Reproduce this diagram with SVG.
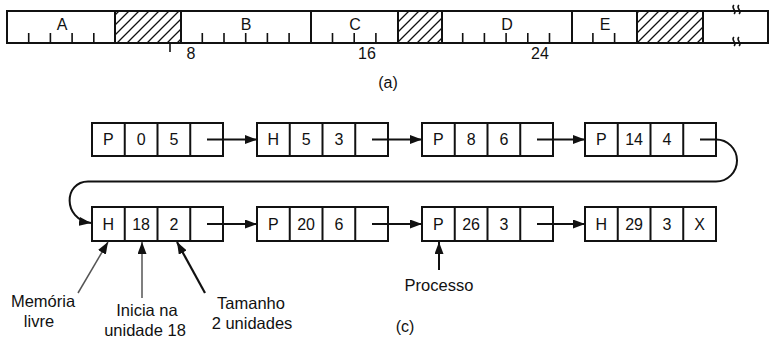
<svg xmlns="http://www.w3.org/2000/svg" width="772" height="339" viewBox="0 0 772 339">
<style>
.t{font-family:"Liberation Sans",Arial,sans-serif;font-size:16px;fill:#111;text-anchor:middle}
.lb{font-family:"Liberation Sans",Arial,sans-serif;font-size:16.5px;fill:#111}
.box{fill:#fff;stroke:#111;stroke-width:2}
.ln{stroke:#111;stroke-width:2;fill:none}
.tk{stroke:#111;stroke-width:1.6}
.cn{stroke:#111;stroke-width:2;fill:none}
</style>
<defs>
<pattern id="hatch" patternUnits="userSpaceOnUse" width="10" height="10">
<path d="M-2,2 L2,-2 M0,10 L10,0 M8,12 L12,8" stroke="#111" stroke-width="1.3"/>
</pattern>
<marker id="ah" markerUnits="userSpaceOnUse" markerWidth="13" markerHeight="9" refX="12" refY="4.5" orient="auto">
<path d="M0,0 L12,4.5 L0,9 z" fill="#111"/>
</marker>
</defs>
<rect width="772" height="339" fill="#fff"/>

<g id="memory-bar">
<rect class="box" x="7" y="11" width="761" height="32"/>
<rect x="115" y="11" width="66" height="32" fill="url(#hatch)" stroke="#111" stroke-width="2"/>
<rect x="398" y="11" width="44" height="32" fill="url(#hatch)" stroke="#111" stroke-width="2"/>
<rect x="637" y="11" width="66" height="32" fill="url(#hatch)" stroke="#111" stroke-width="2"/>
<path class="ln" d="M311 11V43M572 11V43"/>
<path class="tk" d="M28.7 33V43M50.4 33V43M72.1 33V43M93.8 33V43M202.3 33V43M224 33V43M245.7 33V43M267.4 33V43M289.1 33V43M332.5 33V43M354.2 33V43M375.9 33V43M462.7 33V43M484.4 33V43M506.1 33V43M527.8 33V43M549.5 33V43M592.9 33V43M614.6 33V43M170 43V52"/>
<path d="M734 5 c-4 3 4 6 0 9 M739 5 c-4 3 4 6 0 9 M734 37 c-4 3 4 6 0 9 M739 37 c-4 3 4 6 0 9" stroke="#111" stroke-width="1.5" fill="none"/>
<text class="t" x="62" y="30">A</text>
<text class="t" x="246" y="30">B</text>
<text class="t" x="355" y="30">C</text>
<text class="t" x="507" y="30">D</text>
<text class="t" x="605" y="30">E</text>
<text class="t" x="191" y="59">8</text>
<text class="t" x="367" y="59">16</text>
<text class="t" x="540" y="59">24</text>
<text class="t" x="388" y="88">(a)</text>
</g>

<g id="n-P0">
<rect class="box" x="92" y="123" width="131" height="33"/>
<path class="ln" d="M124.75 123V156M157.5 123V156M190.25 123V156"/>
<text class="t" x="108.4" y="145">P</text><text class="t" x="141.1" y="145">0</text><text class="t" x="173.9" y="145">5</text>
</g>
<g id="n-H5">
<rect class="box" x="257" y="123" width="131" height="33"/>
<path class="ln" d="M289.75 123V156M322.5 123V156M355.25 123V156"/>
<text class="t" x="273.4" y="145">H</text><text class="t" x="306.1" y="145">5</text><text class="t" x="338.9" y="145">3</text>
</g>
<g id="n-P8">
<rect class="box" x="422" y="123" width="131" height="33"/>
<path class="ln" d="M454.75 123V156M487.5 123V156M520.25 123V156"/>
<text class="t" x="438.4" y="145">P</text><text class="t" x="471.1" y="145">8</text><text class="t" x="503.9" y="145">6</text>
</g>
<g id="n-P14">
<rect class="box" x="585" y="123" width="131" height="33"/>
<path class="ln" d="M617.75 123V156M650.5 123V156M683.25 123V156"/>
<text class="t" x="601.4" y="145">P</text><text class="t" x="634.1" y="145">14</text><text class="t" x="666.9" y="145">4</text>
</g>
<g id="n-H18">
<rect class="box" x="92" y="207" width="131" height="34"/>
<path class="ln" d="M124.75 207V241M157.5 207V241M190.25 207V241"/>
<text class="t" x="108.4" y="229.5">H</text><text class="t" x="141.1" y="229.5">18</text><text class="t" x="173.9" y="229.5">2</text>
</g>
<g id="n-P20">
<rect class="box" x="257" y="207" width="131" height="34"/>
<path class="ln" d="M289.75 207V241M322.5 207V241M355.25 207V241"/>
<text class="t" x="273.4" y="229.5">P</text><text class="t" x="306.1" y="229.5">20</text><text class="t" x="338.9" y="229.5">6</text>
</g>
<g id="n-P26">
<rect class="box" x="422" y="207" width="131" height="34"/>
<path class="ln" d="M454.75 207V241M487.5 207V241M520.25 207V241"/>
<text class="t" x="438.4" y="229.5">P</text><text class="t" x="471.1" y="229.5">26</text><text class="t" x="503.9" y="229.5">3</text>
</g>
<g id="n-H29">
<rect class="box" x="585" y="207" width="131" height="34"/>
<path class="ln" d="M617.75 207V241M650.5 207V241M683.25 207V241"/>
<text class="t" x="601.4" y="229.5">H</text><text class="t" x="634.1" y="229.5">29</text><text class="t" x="666.9" y="229.5">3</text><text class="t" x="699.6" y="229.5">X</text>
</g>

<g id="connectors">
<path class="cn" marker-end="url(#ah)" d="M207 139.5H257"/>
<path class="cn" marker-end="url(#ah)" d="M372 139.5H422"/>
<path class="cn" marker-end="url(#ah)" d="M537 139.5H585"/>
<path class="cn" marker-end="url(#ah)" d="M700 139.5H716A21 21 0 0 1 716 181.5H88C64 181.5 62 219 91 223"/>
<path class="cn" marker-end="url(#ah)" d="M207 224H257"/>
<path class="cn" marker-end="url(#ah)" d="M372 224H422"/>
<path class="cn" marker-end="url(#ah)" d="M537 224H585"/>
<path stroke="#555" stroke-width="1.5" fill="none" marker-end="url(#ah)" d="M78 293L108 242"/>
<path stroke="#555" stroke-width="1.5" fill="none" marker-end="url(#ah)" d="M142 298V242"/>
<path stroke="#111" stroke-width="2.2" fill="none" marker-end="url(#ah)" d="M205 293L177 242"/>
<path stroke="#111" stroke-width="2" fill="none" marker-end="url(#ah)" d="M439 270V242"/>
</g>

<g id="labels">
<text class="lb" x="43" y="307" text-anchor="middle">Memória</text>
<text class="lb" x="39" y="327" text-anchor="middle">livre</text>
<text class="lb" x="147" y="316" text-anchor="middle">Inicia na</text>
<text class="lb" x="145" y="335.5" text-anchor="middle">unidade 18</text>
<text class="lb" x="251" y="309" text-anchor="middle">Tamanho</text>
<text class="lb" x="252" y="329" text-anchor="middle">2 unidades</text>
<text class="lb" x="439" y="291" text-anchor="middle">Processo</text>
<text class="t" x="405" y="332">(c)</text>
</g>
</svg>
